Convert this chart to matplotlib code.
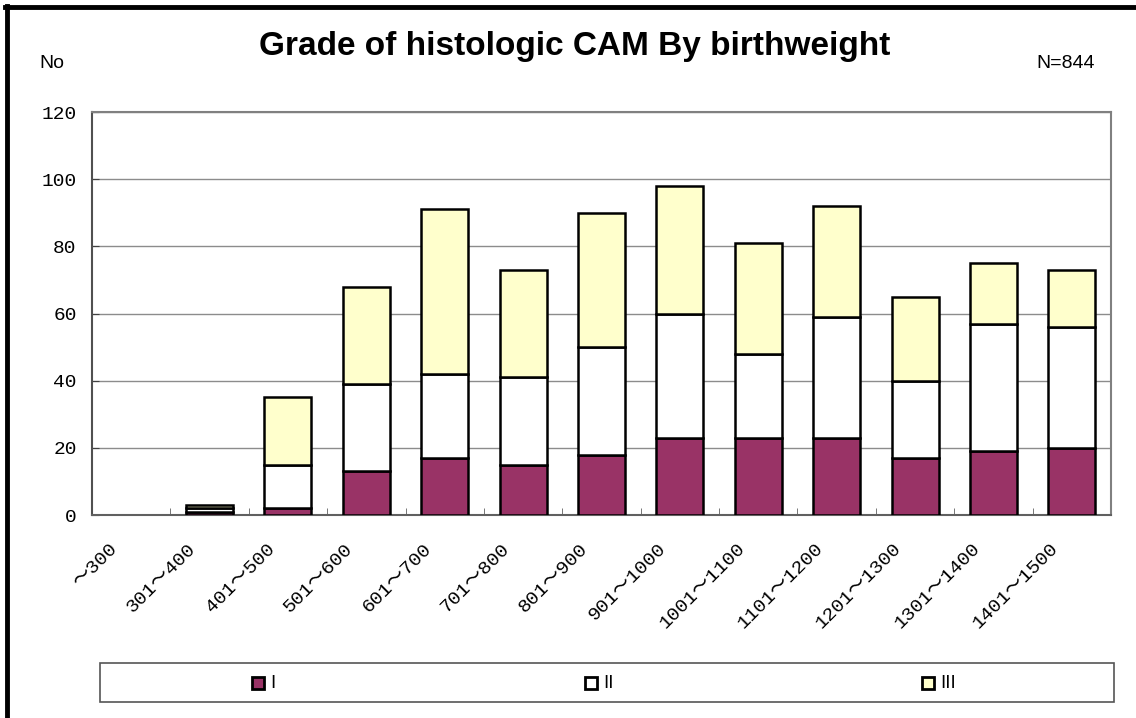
import matplotlib
matplotlib.use("Agg")
import matplotlib.pyplot as plt
from matplotlib.patches import Rectangle
from matplotlib.lines import Line2D
from matplotlib.transforms import ScaledTranslation
import numpy as np

categories = ["〜300", "301〜400", "401〜500", "501〜600", "601〜700", "701〜800",
              "801〜900", "901〜1000", "1001〜1100", "1101〜1200", "1201〜1300",
              "1301〜1400", "1401〜1500"]
grade_I = [0, 1, 2, 13, 17, 15, 18, 23, 23, 23, 17, 19, 20]
grade_II = [0, 1, 13, 26, 25, 26, 32, 37, 25, 36, 23, 38, 36]
grade_III = [0, 1, 20, 29, 49, 32, 40, 38, 33, 33, 25, 18, 17]
series_names = ["I", "II", "III"]
colors = ["#993366", "#FFFFFF", "#FFFFCC"]
yticks = [0, 20, 40, 60, 80, 100, 120]

W, H = 1136, 718
fig = plt.figure(figsize=(W / 100, H / 100), dpi=100)
ax = fig.add_axes([92 / W, 1 - 515 / H, (1111 - 92) / W, (515 - 112) / H])

x = np.arange(len(categories))
series = [grade_I, grade_II, grade_III]
bottom = np.zeros(len(categories))
for vals, c in zip(series, colors):
    vals = np.array(vals, dtype=float)
    lw = [1.8 if v > 0 else 0 for v in vals]
    ax.bar(x, vals, bottom=bottom, width=0.6, color=c, edgecolor="black",
           linewidth=lw, zorder=3)
    bottom += vals

ax.set_xlim(-0.5, len(categories) - 0.5)
ax.set_ylim(0, 120)
ax.set_yticks(yticks)
ax.set_yticklabels([str(t) for t in yticks], family="Liberation Mono", fontsize=14)
ax.yaxis.grid(True, color="#8c8c8c", linewidth=1, zorder=0)
ax.tick_params(axis="y", length=5, direction="in", color="#404040", pad=11)

ax.set_xticks(x)
ax.set_xticklabels(categories, rotation=45, ha="right", va="center",
                   rotation_mode="anchor",
                   family=["Liberation Mono", "Noto Sans CJK JP", "DejaVu Sans"],
                   fontsize=14)
ax.tick_params(axis="x", length=0, pad=0)
off = ScaledTranslation(-16 / 100, -31 / 100, fig.dpi_scale_trans)
for lab in ax.get_xticklabels():
    lab.set_transform(lab.get_transform() + off)
# boundary tick marks (inside)
ax.set_xticks(np.arange(len(categories) + 1) - 0.5, minor=True)
ax.tick_params(axis="x", which="minor", direction="in", length=5, color="#606060")

for s in ax.spines.values():
    s.set_color("#808080")
    s.set_linewidth(1.5)
ax.spines["left"].set_color("#505050")
ax.spines["bottom"].set_color("#606060")

# Title and annotations
fig.text(575 / W, 1 - 47 / H, "Grade of histologic CAM By birthweight", ha="center",
         va="center", fontsize=24, fontweight="bold", family="Liberation Sans")
fig.text(39 / W, 1 - 64 / H, "No", ha="left", va="center", fontsize=14,
         family="Liberation Sans")
fig.text(1095 / W, 1 - 63 / H, "N=844", ha="right", va="center", fontsize=14,
         family="Liberation Sans")

# Outer border (left and top)
fig.add_artist(Line2D([6.5 / W, 6.5 / W], [0, 1 - 6 / H], transform=fig.transFigure,
                      color="black", linewidth=3.5))
fig.add_artist(Line2D([5 / W, 1], [1 - 6.5 / H, 1 - 6.5 / H], transform=fig.transFigure,
                      color="black", linewidth=3.5))

# Legend box
lx0, lx1, ly0, ly1 = 100, 1114, 663, 702
fig.add_artist(Rectangle((lx0 / W, 1 - ly1 / H), (lx1 - lx0) / W, (ly1 - ly0) / H,
                         transform=fig.transFigure, facecolor="white",
                         edgecolor="#555555", linewidth=1.2))
entry_x = [252, 585, 922]
for ex, name, c in zip(entry_x, series_names, colors):
    fig.add_artist(Rectangle((ex / W, 1 - 689 / H), 12 / W, 12 / H,
                             transform=fig.transFigure, facecolor=c,
                             edgecolor="black", linewidth=2))
    fig.text((ex + 18) / W, 1 - 683 / H, name, ha="left", va="center",
             fontsize=13, family="DejaVu Sans")

fig.savefig("out.png", dpi=100)
